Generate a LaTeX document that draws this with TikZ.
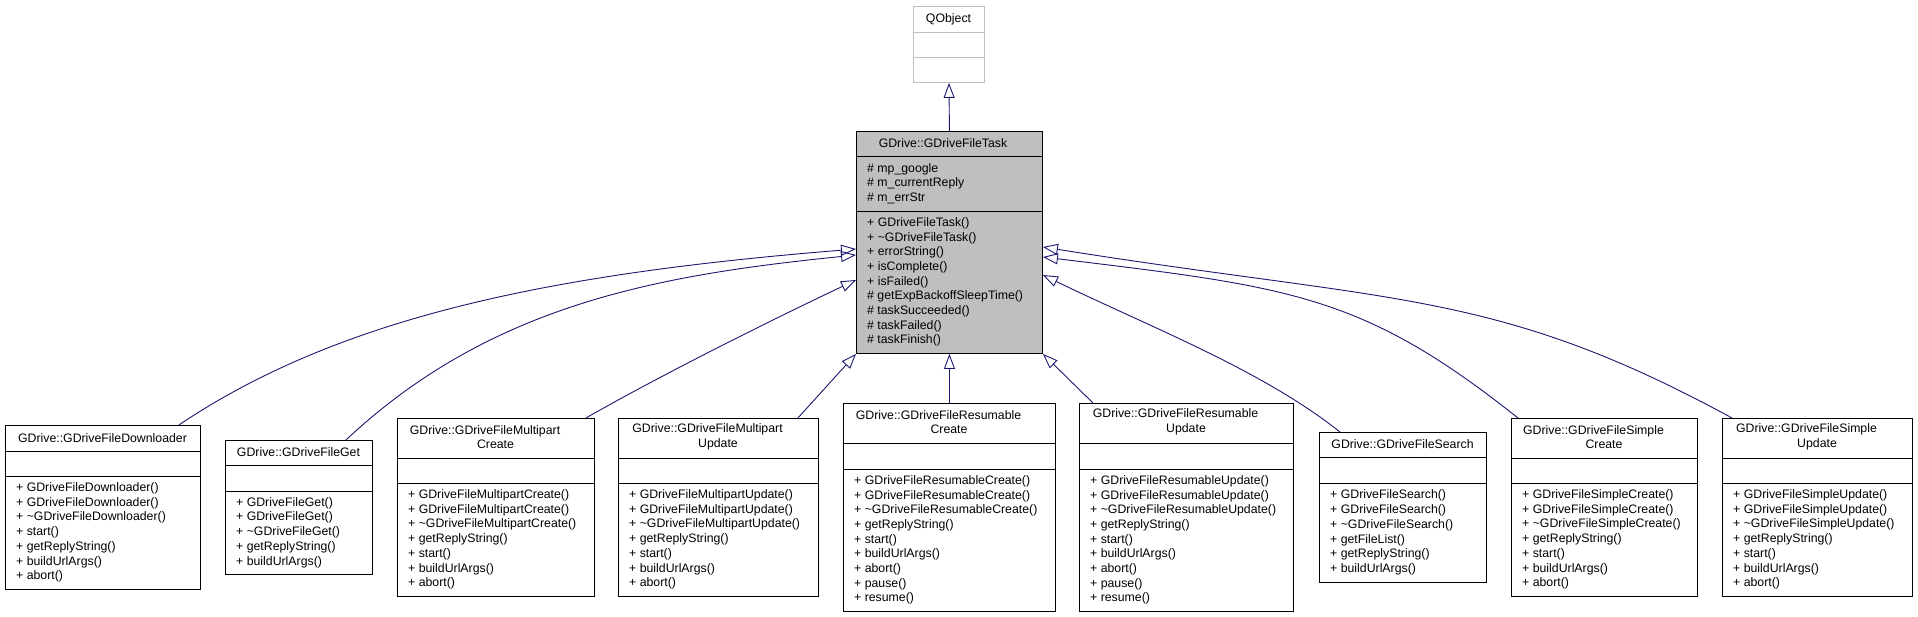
\documentclass[tikz,border=0pt]{standalone}
\usepackage{fontspec}
\setmainfont{Liberation Sans}
\usetikzlibrary{arrows.meta}

\definecolor{edgeblue}{RGB}{25,25,112}
\definecolor{taskgray}{RGB}{191,191,191}

\begin{document}
\begin{tikzpicture}[x = 1pt, y = -1pt, font = \fontsize{12.3}{14.7}\selectfont,
        cls/.style = {draw, fill = white, line width = 0.9pt, inner sep = 0, anchor = north west},
        ttl/.style = {inner sep = 0, align = center},
        mth/.style = {inner sep = 0, align = left, anchor = west},
        sep/.style = {line width = 0.9pt},
        inheritline/.style = {draw = edgeblue, line width = 0.9pt, -{Triangle[open, length = 15pt, width = 11pt]}}]
        \fill [white] (0,0) rectangle (1918,617);
        \useasboundingbox (0,0) rectangle (1918,617);

        % base classes
        \node [cls, draw = taskgray, minimum width = 71, minimum height = 76] (qobj) at (913,6) {};
        \draw [sep, taskgray] (qobj.west |- 0,32) -- (qobj.east |- 0,32) (qobj.west |- 0,57) -- (qobj.east |- 0,57);
        \node [ttl] at (948.5,19) {QObject};

        \node [cls, fill = taskgray, minimum width = 186, minimum height = 222] (task) at (856,131) {};
        \draw [sep] (task.west |- 0,156) -- (task.east |- 0,156) (task.west |- 0,211) -- (task.east |- 0,211);
        \node [ttl] at (943,143.5) {GDrive::GDriveFileTask};
        \node [mth] at (867,183.5) {\# mp\_google\\\# m\_currentReply\\\# m\_errStr};
        \node [mth] at (867,282) {+ GDriveFileTask()\\+ \textasciitilde GDriveFileTask()\\+ errorString()\\+ isComplete()\\+ isFailed()\\\# getExpBackoffSleepTime()\\\# taskSucceeded()\\\# taskFailed()\\\# taskFinish()};

        % derived classes
        \node [cls, minimum width = 195, minimum height = 164] (dl) at (5,425) {};
        \draw [sep] (dl.west |- 0,451) -- (dl.east |- 0,451) (dl.west |- 0,476) -- (dl.east |- 0,476);
        \node [ttl] at (102.5,438) {GDrive::GDriveFileDownloader};
        \node [mth] at (16,532.5) {+ GDriveFileDownloader()\\+ GDriveFileDownloader()\\+ \textasciitilde GDriveFileDownloader()\\+ start()\\+ getReplyString()\\+ buildUrlArgs()\\+ abort()};

        \node [cls, minimum width = 147, minimum height = 134] (fg) at (225,440) {};
        \draw [sep] (fg.west |- 0,465) -- (fg.east |- 0,465) (fg.west |- 0,491) -- (fg.east |- 0,491);
        \node [ttl] at (298.5,452.5) {GDrive::GDriveFileGet};
        \node [mth] at (236,532.5) {+ GDriveFileGet()\\+ GDriveFileGet()\\+ \textasciitilde GDriveFileGet()\\+ getReplyString()\\+ buildUrlArgs()};

        \node [cls, minimum width = 197, minimum height = 178] (mc) at (397,418) {};
        \draw [sep] (mc.west |- 0,458) -- (mc.east |- 0,458) (mc.west |- 0,483) -- (mc.east |- 0,483);
        \node [ttl] at (495.5,437) {GDrive::GDriveFileMultipart\kern21pt\\Create};
        \node [mth] at (408,539.5) {+ GDriveFileMultipartCreate()\\+ GDriveFileMultipartCreate()\\+ \textasciitilde GDriveFileMultipartCreate()\\+ getReplyString()\\+ start()\\+ buildUrlArgs()\\+ abort()};

        \node [cls, minimum width = 200, minimum height = 178] (mu) at (618,418) {};
        \draw [sep] (mu.west |- 0,458) -- (mu.east |- 0,458) (mu.west |- 0,483) -- (mu.east |- 0,483);
        \node [ttl] at (718,437) {GDrive::GDriveFileMultipart\kern21pt\\Update};
        \node [mth] at (629,539.5) {+ GDriveFileMultipartUpdate()\\+ GDriveFileMultipartUpdate()\\+ \textasciitilde GDriveFileMultipartUpdate()\\+ getReplyString()\\+ start()\\+ buildUrlArgs()\\+ abort()};

        \node [cls, minimum width = 212, minimum height = 208] (rc) at (843,403) {};
        \draw [sep] (rc.west |- 0,443) -- (rc.east |- 0,443) (rc.west |- 0,469) -- (rc.east |- 0,469);
        \node [ttl] at (949,422) {GDrive::GDriveFileResumable\kern21pt\\Create};
        \node [mth] at (854,540) {+ GDriveFileResumableCreate()\\+ GDriveFileResumableCreate()\\+ \textasciitilde GDriveFileResumableCreate()\\+ getReplyString()\\+ start()\\+ buildUrlArgs()\\+ abort()\\+ pause()\\+ resume()};

        \node [cls, minimum width = 214, minimum height = 208] (ru) at (1079,403) {};
        \draw [sep] (ru.west |- 0,443) -- (ru.east |- 0,443) (ru.west |- 0,469) -- (ru.east |- 0,469);
        \node [ttl] at (1186,422) {GDrive::GDriveFileResumable\kern21pt\\Update};
        \node [mth] at (1090,540) {+ GDriveFileResumableUpdate()\\+ GDriveFileResumableUpdate()\\+ \textasciitilde GDriveFileResumableUpdate()\\+ getReplyString()\\+ start()\\+ buildUrlArgs()\\+ abort()\\+ pause()\\+ resume()};

        \node [cls, minimum width = 167, minimum height = 150] (sr) at (1319,432) {};
        \draw [sep] (sr.west |- 0,457) -- (sr.east |- 0,457) (sr.west |- 0,483) -- (sr.east |- 0,483);
        \node [ttl] at (1402.5,444.5) {GDrive::GDriveFileSearch};
        \node [mth] at (1330,532.5) {+ GDriveFileSearch()\\+ GDriveFileSearch()\\+ \textasciitilde GDriveFileSearch()\\+ getFileList()\\+ getReplyString()\\+ buildUrlArgs()};

        \node [cls, minimum width = 186, minimum height = 178] (sc) at (1511,418) {};
        \draw [sep] (sc.west |- 0,458) -- (sc.east |- 0,458) (sc.west |- 0,483) -- (sc.east |- 0,483);
        \node [ttl] at (1604,437) {GDrive::GDriveFileSimple\kern21pt\\Create};
        \node [mth] at (1522,539.5) {+ GDriveFileSimpleCreate()\\+ GDriveFileSimpleCreate()\\+ \textasciitilde GDriveFileSimpleCreate()\\+ getReplyString()\\+ start()\\+ buildUrlArgs()\\+ abort()};

        \node [cls, minimum width = 190, minimum height = 178] (su) at (1722,418) {};
        \draw [sep] (su.west |- 0,458) -- (su.east |- 0,458) (su.west |- 0,483) -- (su.east |- 0,483);
        \node [ttl] at (1817,437) {GDrive::GDriveFileSimple\kern21pt\\Update};
        \node [mth] at (1733,539.5) {+ GDriveFileSimpleUpdate()\\+ GDriveFileSimpleUpdate()\\+ \textasciitilde GDriveFileSimpleUpdate()\\+ getReplyString()\\+ start()\\+ buildUrlArgs()\\+ abort()};

        % inheritance
        \draw [inheritline] (task.north) -- (qobj.south);
        \draw [inheritline] ([xshift = -22pt]dl.north east) .. controls (344,314) and (560,273) .. ([yshift = -118pt]task.north west);
        \draw [inheritline] ([xshift = -27pt]fg.north east) .. controls (491,304) and (659,275) .. ([yshift = -124pt]task.north west);
        \draw [inheritline] ([xshift = -9pt]mc.north east) .. controls (672,369) and (784,314) .. ([yshift = -149pt]task.north west);
        \draw [inheritline] ([xshift = -21pt]mu.north east) -- (task.south west);
        \draw [inheritline] (rc.north) -- (task.south);
        \draw [inheritline] ([xshift = 14pt]ru.north west) -- (task.south east);
        \draw [inheritline] ([xshift = 21pt]sr.north west) .. controls (1262,370) and (1150,327) .. ([yshift = -144pt]task.north east);
        \draw [inheritline] ([xshift = 7pt]sc.north west) .. controls (1362,294) and (1290,287) .. ([yshift = -126pt]task.north east);
        \draw [inheritline] ([xshift = 10pt]su.north west) .. controls (1495,289) and (1394,303) .. ([yshift = -116pt]task.north east);
\end{tikzpicture}
\end{document}
